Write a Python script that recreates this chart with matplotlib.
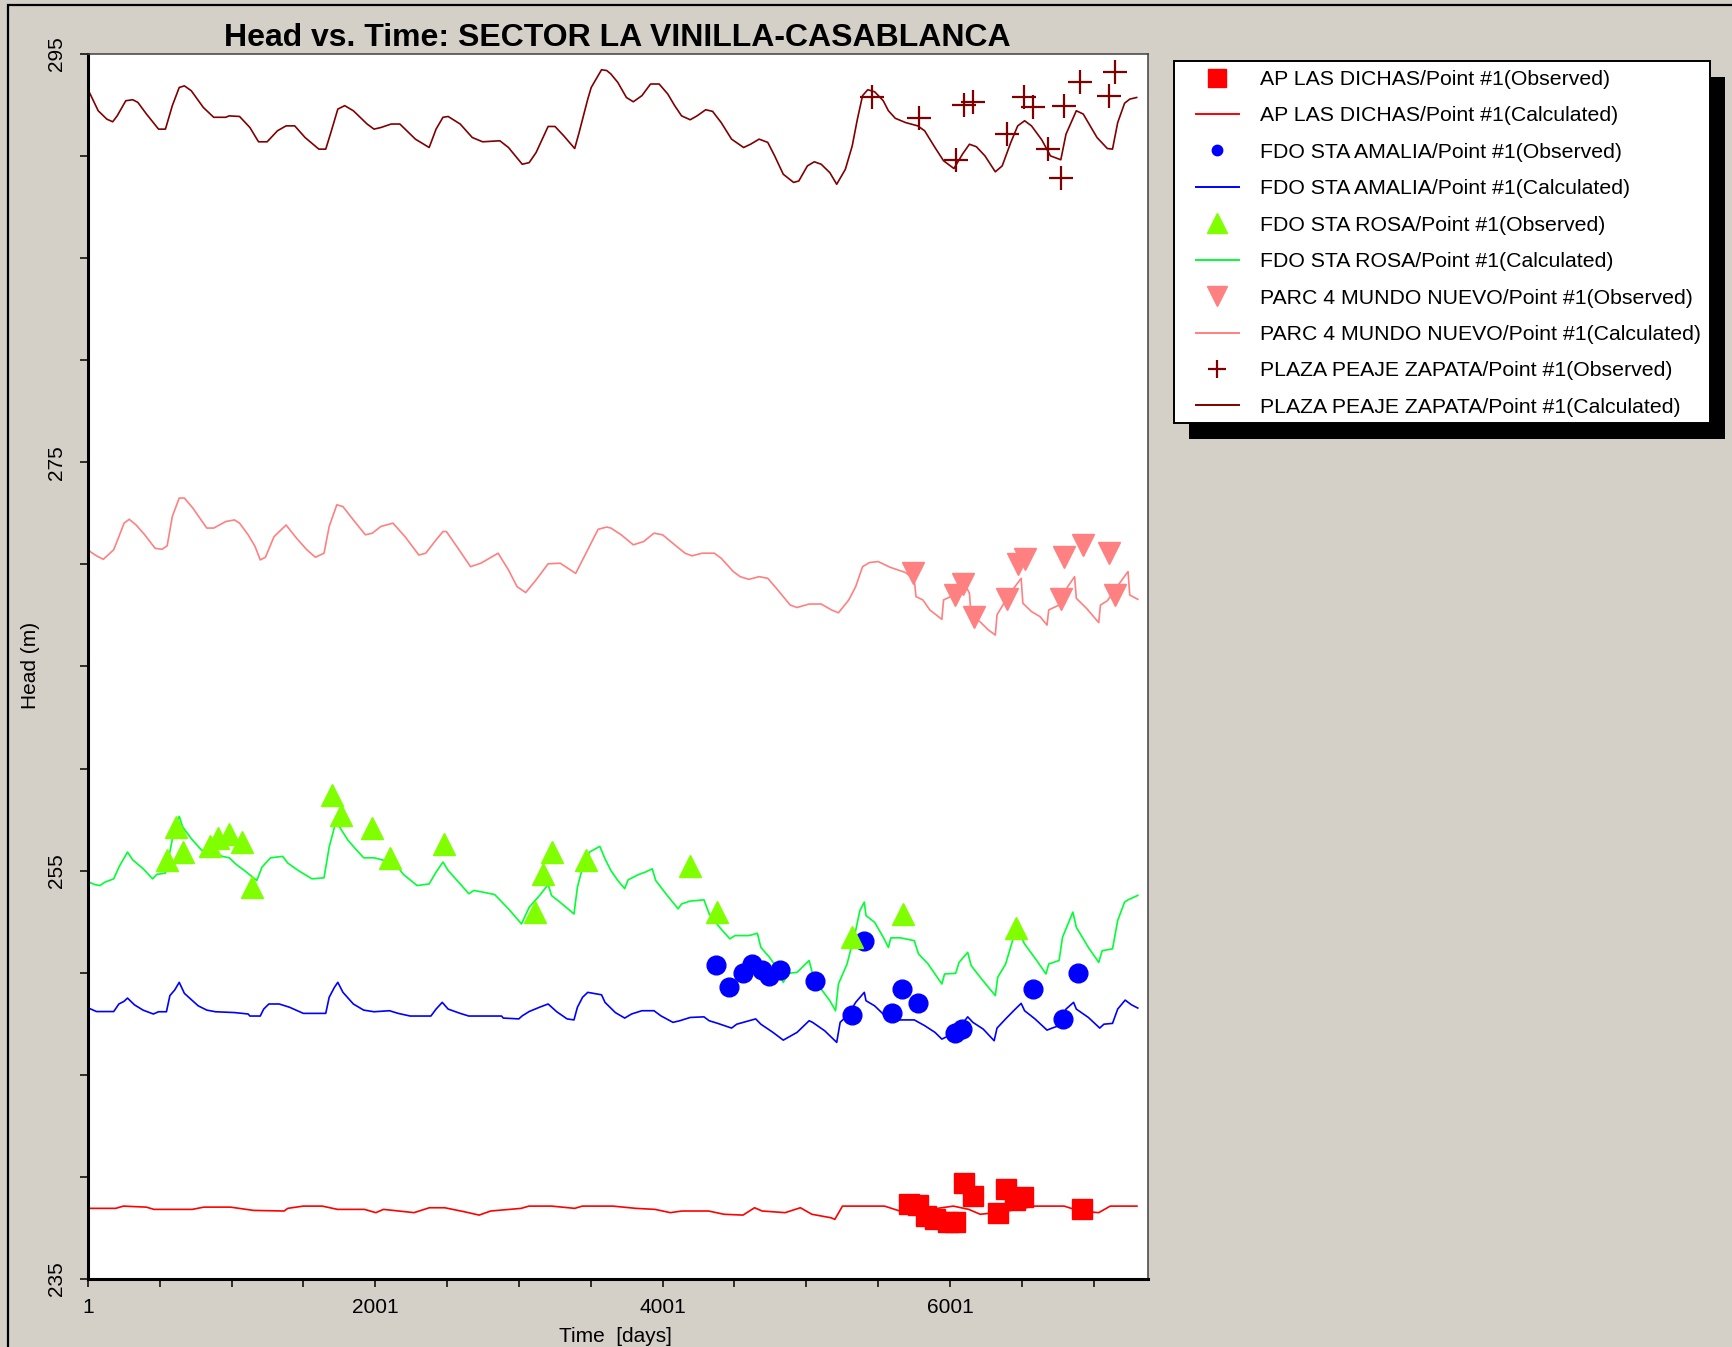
"""Head vs. time plot for the La Vinilla-Casablanca sector wells.

Observed heads are drawn as markers and the model heads as lines,
one colour per well, with a boxed legend to the right of the plot.
"""

import matplotlib
matplotlib.use("Agg")
import matplotlib.pyplot as plt
from matplotlib.lines import Line2D
from matplotlib.patches import Rectangle
from matplotlib.ticker import MultipleLocator, FormatStrFormatter

plt.rcParams["font.family"] = ["Liberation Sans", "DejaVu Sans"]

# ---------------------------------------------------------------------------
# AP LAS DICHAS
dichas_calc_days = [
    8, 194, 247, 407, 460, 727, 807, 993, 1153, 1366,
    1392, 1499, 1632, 1738, 1925, 2005, 2058, 2271, 2377, 2484,
    2617, 2724, 2804, 3017, 3070, 3229, 3389, 3442, 3655, 3815,
    3948, 4055, 4135, 4321, 4428, 4561, 4641, 4694, 4854, 4960,
    5040, 5173, 5200, 5253, 5546, 5652, 5785, 6025, 6132, 6212,
    6318, 6478, 6584, 6797, 6903, 7037, 7117, 7303,
]
dichas_calc_head = [
    238.46, 238.46, 238.57, 238.52, 238.41, 238.41, 238.52, 238.52, 238.36, 238.33,
    238.46, 238.57, 238.57, 238.41, 238.41, 238.25, 238.41, 238.25, 238.49, 238.49,
    238.30, 238.13, 238.33, 238.46, 238.57, 238.57, 238.46, 238.57, 238.57, 238.46,
    238.41, 238.25, 238.33, 238.33, 238.17, 238.13, 238.49, 238.33, 238.25, 238.49,
    238.17, 238.00, 237.92, 238.57, 238.57, 238.33, 238.33, 238.57, 238.41, 238.17,
    238.25, 238.41, 238.57, 238.57, 238.33, 238.25, 238.57, 238.57,
]
dichas_obs_days = [5715, 5776, 5838, 5899, 5991, 6037, 6099, 6161, 6338, 6392,
                   6453, 6507, 6922]
dichas_obs_head = [238.68, 238.62, 238.08, 237.92, 237.81, 237.81, 239.70, 239.05,
                   238.24, 239.43, 238.89, 239.00, 238.41]

# FDO STA AMALIA
amalia_calc_days = [
    5, 60, 180, 216, 252, 276, 324, 384, 456, 492,
    547, 571, 605, 636, 672, 768, 828, 888, 1020, 1116,
    1128, 1200, 1224, 1260, 1332, 1404, 1500, 1656, 1680, 1716,
    1740, 1776, 1848, 1920, 1992, 2100, 2160, 2244, 2388, 2424,
    2467, 2508, 2592, 2652, 2880, 2892, 3000, 3024, 3072, 3144,
    3204, 3264, 3336, 3384, 3408, 3444, 3480, 3576, 3600, 3672,
    3737, 3785, 3857, 3941, 3989, 4073, 4121, 4193, 4289, 4325,
    4385, 4481, 4517, 4649, 4685, 4769, 4841, 4937, 5021, 5045,
    5129, 5213, 5237, 5297, 5345, 5405, 5417, 5477, 5561, 5633,
    5753, 5825, 5897, 5945, 6041, 6125, 6161, 6233, 6309, 6329,
    6389, 6449, 6497, 6521, 6593, 6677, 6713, 6761, 6809, 6862,
    6881, 6965, 7044, 7073, 7133, 7169, 7221, 7265, 7309,
]
amalia_calc_head = [
    248.27, 248.10, 248.10, 248.47, 248.60, 248.76, 248.43, 248.17, 247.98, 248.09,
    248.09, 248.88, 249.16, 249.53, 248.99, 248.38, 248.17, 248.09, 248.05, 247.98,
    247.88, 247.88, 248.22, 248.47, 248.47, 248.31, 248.01, 248.01, 248.80, 249.28,
    249.53, 249.04, 248.47, 248.17, 248.09, 248.14, 248.01, 247.88, 247.88, 248.22,
    248.55, 248.22, 248.01, 247.88, 247.88, 247.78, 247.74, 247.89, 248.10, 248.31,
    248.47, 248.09, 247.74, 247.69, 248.31, 248.80, 249.04, 248.92, 248.55, 248.05,
    247.78, 247.98, 248.14, 248.14, 247.89, 247.57, 247.65, 247.81, 247.84, 247.65,
    247.52, 247.29, 247.48, 247.74, 247.48, 247.08, 246.70, 247.08, 247.65, 247.57,
    247.16, 246.59, 247.57, 247.98, 248.55, 249.04, 248.63, 248.38, 247.81, 247.69,
    247.69, 247.41, 247.08, 246.75, 247.08, 247.84, 247.57, 247.24, 246.67, 247.29,
    247.74, 248.17, 248.50, 248.14, 247.74, 247.19, 247.29, 247.41, 248.22, 248.55,
    248.22, 247.81, 247.29, 247.48, 247.52, 248.22, 248.66, 248.43, 248.27,
]
amalia_obs_days = [4373, 4462, 4558, 4625, 4692, 4740, 4817, 5062, 5405, 5316,
                   5597, 5669, 5777, 6036, 6084, 6581, 6790, 6893]
amalia_obs_head = [250.39, 249.28, 249.97, 250.43, 250.13, 249.86, 250.13, 249.61,
                   251.57, 247.95, 248.05, 249.20, 248.50, 247.03, 247.24, 249.20,
                   247.74, 249.99]

# FDO STA ROSA
rosa_calc_days = [
    5, 48, 84, 120, 180, 216, 276, 312, 384, 451,
    480, 540, 564, 600, 636, 660, 720, 792, 840, 876,
    936, 984, 1032, 1104, 1176, 1212, 1272, 1356, 1392, 1464,
    1560, 1644, 1680, 1723, 1752, 1812, 1872, 1920, 1992, 2064,
    2136, 2196, 2292, 2376, 2424, 2472, 2508, 2592, 2652, 2688,
    2748, 2832, 2928, 3019, 3072, 3144, 3204, 3228, 3288, 3384,
    3408, 3444, 3492, 3564, 3600,
    3641, 3689, 3737, 3761, 3833, 3881, 3929, 3953, 4025, 4109,
    4133, 4193, 4289, 4325, 4397, 4469, 4505, 4601, 4661, 4685,
    4745, 4793, 4841, 4877, 4937, 5021, 5045, 5105, 5165, 5205,
    5225, 5285, 5345, 5374, 5405, 5417, 5477, 5537, 5573, 5590,
    5657, 5753, 5782, 5849, 5945, 5964, 6041, 6065, 6125, 6149,
    6221, 6317, 6334, 6389, 6437, 6461, 6521, 6605, 6670, 6689,
    6761, 6785, 6857, 6881, 6965, 7037, 7061, 7133, 7169, 7217,
    7241, 7309,
]
rosa_calc_head = [
    254.44, 254.32, 254.27, 254.44, 254.60, 255.17, 255.91, 255.53, 255.10, 254.60,
    254.82, 254.88, 255.67, 256.97, 257.66, 257.14, 256.57, 256.00, 255.91, 255.91,
    255.70, 255.63, 255.31, 254.93, 254.52, 255.17, 255.63, 255.70, 255.37, 255.01,
    254.60, 254.65, 256.16, 257.30, 257.14, 256.48, 256.00, 255.63, 255.63, 255.50,
    255.37, 254.82, 254.27, 254.35, 254.93, 255.42, 255.01, 254.35, 253.87, 254.03,
    253.95, 253.83, 253.13, 252.39, 253.21, 253.78, 254.32, 253.78, 253.45, 252.88,
    254.19, 255.17, 255.91, 256.19, 255.58,
    255.01, 254.52, 254.12, 254.55, 254.81, 254.93, 255.09, 254.52, 253.86, 253.13,
    253.37, 253.51, 253.57, 252.89, 252.23, 251.66, 251.82, 251.82, 251.93, 251.24,
    250.76, 250.27, 249.53, 249.97, 250.02, 250.60, 249.94, 249.20, 248.63, 248.14,
    249.45, 250.43, 252.07, 253.04, 253.46, 252.80, 252.47, 251.74, 251.24, 251.71,
    251.71, 251.57, 250.93, 250.43, 249.45, 249.94, 249.97, 250.51, 251.00, 250.35,
    249.70, 248.88, 249.78, 250.43, 251.57, 252.23, 251.41, 250.60, 249.94, 250.43,
    250.60, 251.74, 252.97, 252.23, 251.24, 250.51, 251.08, 251.17, 252.56, 253.46,
    253.57, 253.79,
]
rosa_obs_days = [552, 612, 665, 852, 907, 980, 1073, 1145, 1697, 1764,
                 1975, 2100, 2479, 3115, 3168, 3228, 3468, 4193, 4378, 5321,
                 5674, 6461]
rosa_obs_head = [255.50, 257.16, 255.89, 256.19, 256.61, 256.78, 256.40, 254.21,
                 258.69, 257.71, 257.11, 255.62, 256.31, 252.97, 254.84, 255.91,
                 255.50, 255.24, 252.99, 251.77, 252.89, 252.18]

# PARC 4 MUNDO NUEVO
mundo_calc_days = [
    5, 60, 108, 180, 216, 252, 288, 336, 396, 468,
    516, 552, 588, 636, 672, 732, 780, 828, 876, 960,
    1020, 1056, 1116, 1164, 1200, 1236, 1296, 1380, 1452, 1524,
    1584, 1644, 1680, 1733, 1776, 1848, 1932, 1980, 2040, 2124,
    2208, 2304, 2352, 2424, 2472, 2496, 2568, 2664, 2736, 2856,
    2928, 2988, 3048, 3120, 3204, 3288, 3396, 3432, 3480, 3552,
    3612,
    3641, 3713, 3797, 3869, 3941, 4001, 4085, 4157, 4205, 4277,
    4361, 4409, 4493, 4541, 4601, 4673, 4733, 4793, 4889, 4937,
    5021, 5105, 5177, 5225, 5297, 5345, 5393, 5441, 5501, 5585,
    5693, 5753, 5765, 5813, 5861, 5945, 5957, 6005, 6053, 6113,
    6137, 6149, 6209, 6269, 6317, 6329, 6377, 6437, 6497, 6509,
    6569, 6629, 6677, 6689, 6761, 6821, 6869, 6881, 6953, 7037,
    7049, 7097, 7181, 7241, 7253, 7309,
]
mundo_calc_head = [
    270.68, 270.42, 270.25, 270.72, 271.36, 272.02, 272.21, 271.93, 271.45, 270.79,
    270.74, 270.91, 272.35, 273.25, 273.25, 272.75, 272.26, 271.78, 271.78, 272.10,
    272.18, 272.02, 271.45, 270.88, 270.22, 270.35, 271.36, 271.93, 271.29, 270.72,
    270.35, 270.55, 271.86, 272.92, 272.83, 272.18, 271.45, 271.53, 271.86, 272.02,
    271.36, 270.46, 270.55, 271.20, 271.61, 271.61, 270.88, 269.89, 270.06, 270.55,
    269.73, 268.91, 268.62, 269.24, 270.03, 270.06, 269.56, 270.06, 270.72, 271.72,
    271.83,
    271.78, 271.45, 270.96, 271.12, 271.53, 271.45, 270.96, 270.55, 270.42, 270.55,
    270.55, 270.30, 269.65, 269.40, 269.27, 269.40, 269.32, 268.83, 268.01, 267.89,
    268.06, 268.06, 267.77, 267.63, 268.26, 268.91, 269.89, 270.09, 270.14, 269.86,
    269.60, 269.24, 268.42, 268.26, 267.77, 267.31, 268.26, 268.42, 268.67, 268.91,
    268.59, 267.44, 267.20, 266.79, 266.54, 267.53, 268.10, 268.75, 269.32, 268.10,
    267.69, 267.44, 267.03, 267.77, 268.01, 268.91, 269.40, 268.34, 267.84, 267.15,
    268.01, 268.22, 269.07, 269.65, 268.50, 268.29,
]
mundo_obs_days = [5741, 6036, 6094, 6166, 6401, 6473, 6521, 6773, 6797, 6929,
                  7109, 7150]
mundo_obs_head = [269.58, 268.50, 269.02, 267.44, 268.29, 270.04, 270.27, 268.29,
                  270.37, 270.96, 270.56, 268.50]

# PLAZA PEAJE ZAPATA
zapata_calc_days = [
    5, 72, 132, 173, 204, 264, 312, 348, 408, 492,
    540, 588, 636, 672, 720, 804, 876, 960, 984, 1056,
    1128, 1188, 1248, 1320, 1380, 1440, 1512, 1608, 1656, 1692,
    1740, 1788, 1848, 1944, 1992, 2040, 2112, 2172, 2280, 2376,
    2424, 2472, 2508, 2592, 2676, 2748, 2868, 2928, 3024, 3072,
    3120, 3204, 3252, 3312, 3389, 3420, 3480, 3504, 3576, 3612,
    3641, 3689, 3749, 3797, 3857, 3917, 3977, 4037, 4085, 4133,
    4193, 4241, 4301, 4349, 4409, 4481, 4565, 4613, 4673, 4733,
    4781, 4841, 4913, 4949, 5009, 5057, 5105, 5165, 5213, 5273,
    5321, 5357, 5393, 5429, 5477, 5537, 5573, 5621, 5693, 5777,
    5825, 5897, 5957, 6029, 6089, 6137, 6185, 6245, 6317, 6365,
    6425, 6473, 6521, 6569, 6641, 6701, 6773, 6809, 6881, 6929,
    7025, 7097, 7133, 7169, 7217, 7253, 7301,
]
zapata_calc_head = [
    293.20, 292.22, 291.81, 291.68, 291.97, 292.71, 292.76, 292.63, 292.06, 291.32,
    291.32, 292.47, 293.36, 293.44, 293.20, 292.38, 291.90, 291.90, 291.97, 291.94,
    291.40, 290.70, 290.70, 291.24, 291.48, 291.48, 290.91, 290.34, 290.34, 291.16,
    292.30, 292.47, 292.22, 291.57, 291.32, 291.40, 291.57, 291.57, 290.83, 290.42,
    291.32, 291.90, 291.94, 291.57, 290.91, 290.70, 290.75, 290.42, 289.60, 289.68,
    290.17, 291.45, 291.45, 291.00, 290.37, 291.16, 292.79, 293.36, 294.23, 294.19,
    294.02, 293.61, 292.87, 292.66, 292.96, 293.53, 293.53, 293.04, 292.47, 291.97,
    291.78, 291.97, 292.27, 292.19, 291.64, 290.83, 290.42, 290.58, 290.83, 290.67,
    290.01, 289.11, 288.71, 288.78, 289.52, 289.72, 289.60, 289.19, 288.62, 289.35,
    290.50, 291.81, 292.96, 293.25, 293.15, 292.71, 292.22, 291.85, 291.64, 291.48,
    291.24, 290.42, 289.77, 289.39, 290.10, 290.58, 290.46, 290.01, 289.23, 289.52,
    290.67, 291.48, 291.73, 291.48, 290.79, 290.01, 289.82, 291.07, 292.22, 292.06,
    290.91, 290.37, 290.34, 291.64, 292.59, 292.79, 292.87,
]
zapata_obs_days = [5460, 5784, 6041, 6096, 6161, 6401, 6516, 6581, 6684, 6773,
                   6797, 6910, 7109, 7150]
zapata_obs_head = [292.87, 291.86, 289.82, 292.49, 292.66, 291.07, 292.87, 292.38,
                   290.37, 288.95, 292.47, 293.65, 292.96, 294.13]

well_names = ["AP LAS DICHAS", "FDO STA AMALIA", "FDO STA ROSA",
              "PARC 4 MUNDO NUEVO", "PLAZA PEAJE ZAPATA"]
x_major_ticks = [1, 2001, 4001, 6001]
y_major_ticks = [235, 255, 275, 295]

# ---------------------------------------------------------------------------
FIG_W, FIG_H, DPI = 1732, 1347, 100
PANEL_GREY = "#D4D0C8"


def fx(px):
    return px / FIG_W


def fy(px):
    return 1 - px / FIG_H


fig = plt.figure(figsize=(FIG_W / DPI, FIG_H / DPI), dpi=DPI, facecolor=PANEL_GREY)

# window frame round the whole panel
fig.patches.append(Rectangle((fx(8), -0.1), 1.2, fy(5) + 0.1, transform=fig.transFigure,
                             fill=False, edgecolor="black", lw=1.6, zorder=-2))

ax = fig.add_axes([fx(88), fy(1279), fx(1148) - fx(88), fy(54) - fy(1279)])
ax.set_facecolor("white")

# (observed style, calculated colour) for each well
styles = [
    (dict(marker="s", ms=14, color="#FF0000"), "#FF0000"),
    (dict(marker="o", ms=13.5, color="#0000FF"), "#0000FF"),
    (dict(marker="^", ms=15.5, color="#80FF00"), "#00FF33"),
    (dict(marker="v", ms=15.5, color="#FF8080"), "#FF8080"),
    (dict(marker="+", ms=17, color="#800000", mew=1.6), "#800000"),
]
calc_series = [
    (dichas_calc_days, dichas_calc_head),
    (amalia_calc_days, amalia_calc_head),
    (rosa_calc_days, rosa_calc_head),
    (mundo_calc_days, mundo_calc_head),
    (zapata_calc_days, zapata_calc_head),
]
obs_series = [
    (dichas_obs_days, dichas_obs_head),
    (amalia_obs_days, amalia_obs_head),
    (rosa_obs_days, rosa_obs_head),
    (mundo_obs_days, mundo_obs_head),
    (zapata_obs_days, zapata_obs_head),
]

for (days, head), (_, line_color) in zip(calc_series, styles):
    ax.plot(days, head, color=line_color, lw=1.2, zorder=2)
for (days, head), (obs_style, _) in zip(obs_series, styles):
    ax.plot(days, head, ls="none", zorder=3, **obs_style)

ax.set_xlim(1, 7380)
ax.set_ylim(235, 295)
ax.set_xticks(x_major_ticks)
ax.xaxis.set_minor_locator(MultipleLocator(500, offset=1))
ax.set_yticks(y_major_ticks)
ax.yaxis.set_minor_locator(MultipleLocator(5))
ax.xaxis.set_major_formatter(FormatStrFormatter("%d"))
ax.yaxis.set_major_formatter(FormatStrFormatter("%d"))

ax.tick_params(which="both", direction="out", length=5.8, width=1.1, color="black",
               labelsize=15)
ax.tick_params(axis="x", which="major", pad=8)
ax.tick_params(axis="y", which="major", pad=10, labelrotation=90)
for lab in ax.get_yticklabels():
    lab.set_verticalalignment("center")

for side in ("left", "bottom"):
    ax.spines[side].set_linewidth(2.2)
    ax.spines[side].set_color("black")
for side in ("top", "right"):
    ax.spines[side].set_linewidth(1.1)
    ax.spines[side].set_color("#404040")

fig.text(fx(617), fy(46), "Head vs. Time: SECTOR LA VINILLA-CASABLANCA",
         ha="center", va="baseline", fontsize=23, fontweight="bold")
fig.text(fx(615), fy(1346), "Time  [days]", ha="center", va="bottom", fontsize=15)
fig.text(fx(31), fy(665), "Head (m)", ha="center", va="center", rotation=90,
         fontsize=15)

# legend box with its drop shadow
box_l, box_t, box_r, box_b = 1174, 61, 1710, 423
fig.patches.append(Rectangle((fx(box_l + 15), fy(box_b + 16)), fx(box_r) - fx(box_l),
                             fy(box_t) - fy(box_b), transform=fig.transFigure,
                             facecolor="black", edgecolor="none", zorder=3))
fig.patches.append(Rectangle((fx(box_l), fy(box_b)), fx(box_r) - fx(box_l),
                             fy(box_t) - fy(box_b), transform=fig.transFigure,
                             facecolor="white", edgecolor="black", lw=1.4, zorder=4))

legend_marker_sizes = [12.5, 7.5, 14, 14, 13]
handles, labels = [], []
for name, (obs_style, line_color), msize in zip(well_names, styles, legend_marker_sizes):
    handle_style = dict(obs_style)
    handle_style["ms"] = msize
    handles.append(Line2D([], [], ls="none", **handle_style))
    labels.append(f"{name}/Point #1(Observed)")
    handles.append(Line2D([], [], color=line_color, lw=1.4))
    labels.append(f"{name}/Point #1(Calculated)")

leg = fig.legend(handles, labels, loc="upper left",
                 bbox_to_anchor=(fx(1196), fy(70)), bbox_transform=fig.transFigure,
                 frameon=False, fontsize=15.3, borderpad=0, borderaxespad=0,
                 handlelength=2.02, handletextpad=0.98, labelspacing=0.82,
                 numpoints=1)
leg.set_zorder(5)

fig.savefig("out.png", dpi=DPI, facecolor=PANEL_GREY)
